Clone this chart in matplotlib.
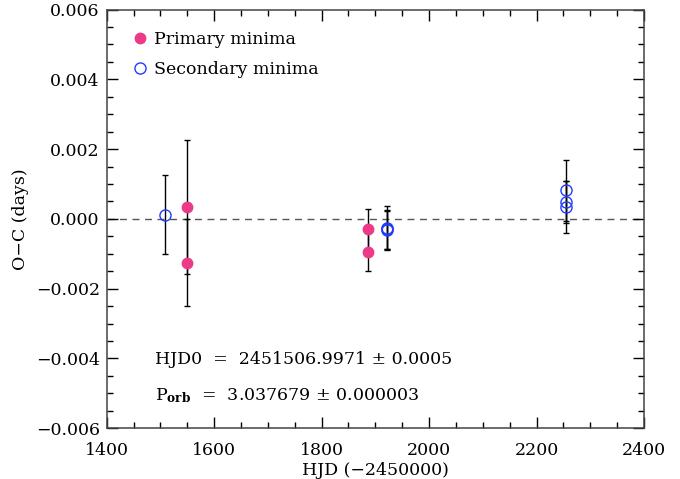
import matplotlib
matplotlib.use("Agg")
import matplotlib.pyplot as plt
from matplotlib.ticker import MultipleLocator, FuncFormatter

# primary minima: HJD-2450000, O-C (days), error
prim_hjd = [1549.5, 1549.5, 1886.6, 1886.6]
prim_oc = [0.00033, -0.00125, -0.00030, -0.00094]
prim_err = [0.00192, 0.00125, 0.00058, 0.00055]

# secondary minima
sec_hjd = [1509.0, 1922.0, 1922.0, 1922.0, 2254.0, 2254.0, 2254.0]
sec_oc = [0.00012, -0.00025, -0.00030, -0.00032, 0.00082, 0.00049, 0.00035]
sec_err = [0.00114, 0.00063, 0.00055, 0.00055, 0.00088, 0.00060, 0.00074]

PINK, BLUE = "#ec3a88", "#1f3cff"
plt.rcParams["font.family"] = ["DejaVu Serif"]
plt.rcParams["mathtext.fontset"] = "dejavuserif"

fig = plt.figure(figsize=(6.8, 4.79), dpi=100)
ax = fig.add_axes([0.157, 0.106, 0.790, 0.874])

ax.axhline(0, color="#555555", lw=1.0, ls=(0, (5, 4)), zorder=1)

ax.errorbar(prim_hjd, prim_oc, yerr=prim_err, fmt="none", ecolor="black",
            elinewidth=1.0, capsize=2.5, capthick=1.0, zorder=2)
ax.errorbar(sec_hjd, sec_oc, yerr=sec_err, fmt="none", ecolor="black",
            elinewidth=1.0, capsize=2.5, capthick=1.0, zorder=2)
ax.plot(prim_hjd, prim_oc, "o", color=PINK, ms=7.5, mec=PINK, zorder=3,
        label="Primary minima")
ax.plot(sec_hjd, sec_oc, "o", mfc="none", mec=BLUE, mew=1.0, ms=8, zorder=3,
        label="Secondary minima")

ax.set_xlim(1400, 2400)
ax.set_ylim(-0.006, 0.006)
ax.xaxis.set_major_locator(MultipleLocator(200))
ax.xaxis.set_minor_locator(MultipleLocator(50))
ax.yaxis.set_major_locator(MultipleLocator(0.002))
ax.yaxis.set_minor_locator(MultipleLocator(0.0005))
ax.yaxis.set_major_formatter(FuncFormatter(lambda v, p: f"{v:.3f}".replace("-", "\u2212")))
ax.tick_params(which="both", direction="in", top=True, right=True, labelsize=12.5, width=1)
ax.tick_params(which="major", length=8)
ax.tick_params(which="minor", length=4)
ax.tick_params(axis="x", which="major", pad=10)
ax.tick_params(axis="y", which="major", pad=5)
for s in ax.spines.values():
    s.set_linewidth(1.1)
    s.set_color("#444444")

ax.set_xlabel("HJD (\u22122450000)", fontsize=12.5, labelpad=2)
ax.set_ylabel("O\u2212C (days)", fontsize=12.5, labelpad=5)

ax.legend(loc="upper left", frameon=False, fontsize=12.5, handletextpad=0.3,
          handlelength=1.0, borderaxespad=0.85, labelspacing=0.75,
          bbox_to_anchor=(0.005, 1.0))

ax.text(0.09, 0.165, "HJD0  =  2451506.9971 \u00b1 0.0005", transform=ax.transAxes,
        fontsize=12.5, va="center")
ax.text(0.09, 0.078, r"P$_{\mathbf{orb}}$  =  3.037679 $\pm$ 0.000003", transform=ax.transAxes,
        fontsize=12.5, va="center")

fig.savefig("out.png", dpi=100, facecolor="white")
